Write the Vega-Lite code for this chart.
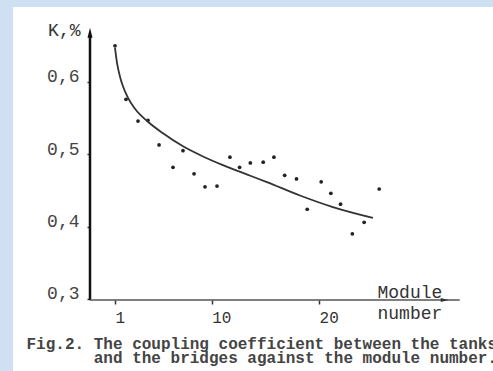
{
  "$schema": "https://vega.github.io/schema/vega-lite/v6.json",
  "width": 480,
  "height": 364,
  "autosize": {"type": "none"},
  "padding": {"left": 13, "top": 7, "right": 0, "bottom": 0},
  "background": "#cfe0f2",
  "config": {"view": {"fill": "white", "stroke": null}, "axis": {"grid": false}},
  "title": {
    "text": ["Fig.2. The coupling coefficient between the tanks", "and the bridges against the module number."],
    "orient": "bottom",
    "anchor": "end",
    "align": "right",
    "frame": "group",
    "offset": -22,
    "dx": 4,
    "baseline": "alphabetic",
    "font": "Liberation Mono",
    "fontSize": 16,
    "fontWeight": "bold",
    "color": "#444",
    "lineHeight": 14,
    "limit": 1000
  },
  "resolve": {"axis": {"x": "independent", "y": "independent"}},
  "datasets": {
    "points": [
      {"module": 1.0, "k": 0.650},
      {"module": 2.02, "k": 0.576},
      {"module": 3.14, "k": 0.546},
      {"module": 4.07, "k": 0.547},
      {"module": 5.10, "k": 0.513},
      {"module": 6.40, "k": 0.482},
      {"module": 7.33, "k": 0.505},
      {"module": 8.36, "k": 0.473},
      {"module": 9.38, "k": 0.455},
      {"module": 10.5, "k": 0.456},
      {"module": 11.7, "k": 0.496},
      {"module": 12.6, "k": 0.482},
      {"module": 13.6, "k": 0.488},
      {"module": 14.8, "k": 0.489},
      {"module": 15.8, "k": 0.496},
      {"module": 16.8, "k": 0.471},
      {"module": 17.9, "k": 0.466},
      {"module": 18.9, "k": 0.424},
      {"module": 20.2, "k": 0.462},
      {"module": 21.1, "k": 0.446},
      {"module": 22.0, "k": 0.431},
      {"module": 23.1, "k": 0.390},
      {"module": 24.2, "k": 0.406},
      {"module": 25.6, "k": 0.452}
    ],
    "curve": [
      {"module": 1.0, "k": 0.647},
      {"module": 1.19, "k": 0.626},
      {"module": 1.47, "k": 0.607},
      {"module": 1.74, "k": 0.594},
      {"module": 2.21, "k": 0.578},
      {"module": 2.86, "k": 0.563},
      {"module": 4.07, "k": 0.545},
      {"module": 5.47, "k": 0.529},
      {"module": 7.33, "k": 0.511},
      {"module": 9.19, "k": 0.497},
      {"module": 11.05, "k": 0.485},
      {"module": 13.66, "k": 0.470},
      {"module": 15.15, "k": 0.4615},
      {"module": 18.22, "k": 0.443},
      {"module": 21.29, "k": 0.427},
      {"module": 25.02, "k": 0.412}
    ]
  },
  "layer": [
    {
      "data": {"name": "points"},
      "mark": {"type": "point", "filled": true, "shape": "circle", "size": 14, "color": "#222", "opacity": 1},
      "encoding": {
        "x": {
          "field": "module", "type": "quantitative",
          "scale": {"domain": [-8.5, 36.2], "nice": false, "zero": false},
          "axis": {
            "orient": "bottom", "offset": -71, "domain": false,
            "values": [1, 10, 20], "ticks": true, "tickSize": 4, "tickWidth": 1.5, "tickColor": "#333",
            "labelFont": "Liberation Mono", "labelFontSize": 16, "labelColor": "#333",
            "labelAlign": "left", "labelDx": -3, "labelBaseline": "alphabetic", "labelPadding": 18, "labelFlush": false,
            "title": ["Module", "number"], "titleFont": "Liberation Mono", "titleFontSize": 18, "titleFontWeight": "normal",
            "titleColor": "#333", "titleAlign": "left", "titleAnchor": "start", "titleX": 364, "titleY": -3,
            "titleBaseline": "alphabetic", "titleLineHeight": 21.5
          }
        },
        "y": {
          "field": "k", "type": "quantitative",
          "scale": {"domain": [0.2003, 0.7037], "nice": false, "zero": false},
          "axis": {
            "orient": "left", "offset": -77, "domain": false,
            "values": [0.3, 0.4, 0.5, 0.6], "tickSize": 3, "tickWidth": 1.5, "tickColor": "#333",
            "labelExpr": "replace(format(datum.value, '.1f'), '.', ',')",
            "labelFont": "Liberation Mono", "labelFontSize": 18, "labelColor": "#444",
            "labelBaseline": "alphabetic", "labelPadding": 8, "labelAlign": "right", "labelFlush": false,
            "title": "K,%", "titleAngle": 0, "titleFont": "Liberation Mono", "titleFontSize": 18, "titleFontWeight": "normal",
            "titleColor": "#333", "titleAlign": "right", "titleX": -10, "titleY": 28, "titleBaseline": "alphabetic"
          }
        }
      }
    },
    {
      "data": {"name": "curve"},
      "mark": {"type": "line", "interpolate": "monotone", "color": "#333", "strokeWidth": 1.8},
      "encoding": {
        "x": {"field": "module", "type": "quantitative", "scale": {"domain": [-8.5, 36.2], "nice": false, "zero": false}, "axis": null},
        "y": {"field": "k", "type": "quantitative", "scale": {"domain": [0.2003, 0.7037], "nice": false, "zero": false}, "axis": null}
      }
    },
    {
      "data": {"values": [{}]},
      "mark": {"type": "rule", "color": "#111", "strokeWidth": 2.5},
      "encoding": {
        "x": {"datum": -1.33, "type": "quantitative", "scale": {"domain": [-8.5, 36.2], "nice": false, "zero": false}, "axis": null},
        "y": {"datum": 0.2986, "type": "quantitative", "scale": {"domain": [0.2003, 0.7037], "nice": false, "zero": false}, "axis": null},
        "y2": {"datum": 0.664}
      }
    },
    {
      "data": {"values": [{}]},
      "mark": {"type": "rule", "color": "#555", "strokeWidth": 1.5},
      "encoding": {
        "x": {"datum": -1.33, "type": "quantitative", "scale": {"domain": [-8.5, 36.2], "nice": false, "zero": false}, "axis": null},
        "x2": {"datum": 33.1},
        "y": {"datum": 0.2986, "type": "quantitative", "scale": {"domain": [0.2003, 0.7037], "nice": false, "zero": false}, "axis": null}
      }
    },
    {
      "data": {"values": [{}]},
      "mark": {"type": "point", "filled": true, "opacity": 1, "color": "#111", "size": 100, "shape": "M0,-1L0.5,1L-0.5,1Z"},
      "encoding": {
        "x": {"datum": -1.33, "type": "quantitative", "scale": {"domain": [-8.5, 36.2], "nice": false, "zero": false}, "axis": null},
        "y": {"datum": 0.668, "type": "quantitative", "scale": {"domain": [0.2003, 0.7037], "nice": false, "zero": false}, "axis": null}
      }
    },
    {
      "data": {"values": [{}]},
      "mark": {"type": "point", "filled": true, "opacity": 1, "color": "#333", "size": 64, "shape": "M1,0L-1,-0.5L-1,0.5Z"},
      "encoding": {
        "x": {"datum": 31.7, "type": "quantitative", "scale": {"domain": [-8.5, 36.2], "nice": false, "zero": false}, "axis": null},
        "y": {"datum": 0.2986, "type": "quantitative", "scale": {"domain": [0.2003, 0.7037], "nice": false, "zero": false}, "axis": null}
      }
    }
  ]
}
